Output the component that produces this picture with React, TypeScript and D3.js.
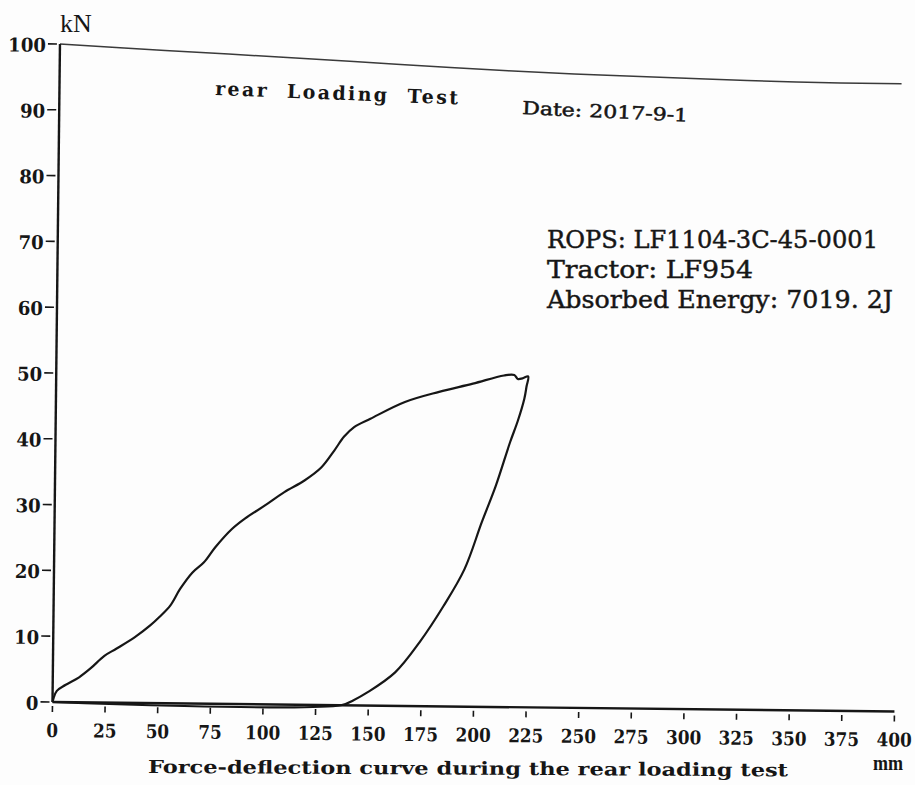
import React from 'react';
import * as d3 from 'd3';

// deflection (mm) / force (kN)
const xTicks: number[] = [0, 25, 50, 75, 100, 125, 150, 175, 200, 225, 250, 275, 300, 325, 350, 375, 400];
const yTicks: number[] = [0, 10, 20, 30, 40, 50, 60, 70, 80, 90, 100];

const loadingCurve: [number, number][] = [
  [0, 0], [0.5, 0.6], [2, 1.7], [6, 2.6], [12.5, 3.8], [18, 5.2], [24.4, 7.1], [30, 8.2],
  [38.8, 10.0], [46, 11.8], [50.3, 13.1], [55.5, 14.9], [60, 17.4], [65.7, 19.9],
  [71.2, 21.5], [76.5, 23.8], [84.3, 26.6], [90.4, 28.2], [99.7, 30.2], [109, 32.3],
  [118.5, 34.1], [126.4, 36.1], [132.5, 38.7], [137, 40.8], [141.8, 42.3], [149.5, 43.6],
  [165.8, 46.2], [182, 47.8], [198, 49.1], [212.7, 50.4], [217.6, 50.5], [219.3, 49.9],
  [221.5, 50.0], [224.2, 50.3],
];

const unloadingCurve: [number, number][] = [
  [224.2, 50.3], [223.5, 48.8], [222.5, 46.9], [219.5, 43.5], [216, 40.3], [209.4, 33.6],
  [203, 28.1], [195, 20.9], [185.3, 15.3], [174, 9.7], [162.6, 5.1], [149.5, 2.0],
  [143, 0.8], [137, 0],
];

const returnLine: [number, number][] = [[137, 0], [0, 0]];

const upperBoundary: [number, number][] = [
  [0, 100], [50, 99.2], [112, 98.3], [160, 97.5], [213, 96.7], [260, 96.2],
  [307, 95.8], [350, 95.5], [400, 95.4],
];

const infoLines: string[] = ['ROPS: LF1104-3C-45-0001', 'Tractor: LF954', 'Absorbed Energy: 7019. 2J'];
const infoWidths: number[] = [331, 206, 346];

const W = 915;
const H = 785;
const ox = 52.5;
const oy = 702;
const tilt = 0.65; // the scan is slightly rotated
const ink = '#161616';
const serif = '"DejaVu Serif", "Liberation Serif", serif';

export default function App() {
  const x = d3.scaleLinear().domain([0, 400]).range([ox, 894.5]);
  const y = d3.scaleLinear().domain([0, 100]).range([oy, 44]);

  const line = d3
    .line<[number, number]>()
    .x((d) => x(d[0]))
    .y((d) => y(d[1]))
    .curve(d3.curveCatmullRom.alpha(0.5));

  const curve = [...loadingCurve, ...unloadingCurve.slice(1), ...returnLine.slice(1)];

  return (
    <svg
      width={W}
      height={H}
      style={{ position: 'absolute', left: 0, top: 0, display: 'block' }}
    >
      <rect width={W} height={H} fill="#fdfdfd" />

      <g transform={`rotate(${tilt} ${ox} ${oy})`}>
        {/* upper frame */}
        <path d={line(upperBoundary) as string} fill="none" stroke="#3a3a3a" strokeWidth={1.5} />

        {/* axes */}
        <line x1={ox} x2={ox} y1={y(0)} y2={y(100)} stroke={ink} strokeWidth={2.4} />
        <line x1={ox} x2={x(400)} y1={y(0)} y2={y(0)} stroke={ink} strokeWidth={2.4} />

        {yTicks.map((t) => (
          <g key={`y${t}`}>
            <line x1={ox - 12} x2={ox - 3} y1={y(t)} y2={y(t)} stroke={ink} strokeWidth={1.6} />
            <text
              x={ox - 14}
              y={y(t) + 8}
              textAnchor="end"
              fontFamily={serif}
              fontWeight="bold"
              fontSize={19}
              textLength={String(t).length * 12.6}
              lengthAdjust="spacingAndGlyphs"
              fill={ink}
            >
              {t}
            </text>
          </g>
        ))}

        {xTicks.map((t) => (
          <g key={`x${t}`}>
            <line x1={x(t)} x2={x(t)} y1={oy + 4} y2={oy + 10} stroke={ink} strokeWidth={1.6} />
            <text
              x={x(t)}
              y={oy + 35}
              textAnchor="middle"
              fontFamily={serif}
              fontWeight="bold"
              fontSize={19}
              textLength={String(t).length * 11.7}
              lengthAdjust="spacingAndGlyphs"
              fill={ink}
            >
              {t}
            </text>
          </g>
        ))}

        {/* force-deflection loop */}
        <path d={line(curve) as string} fill="none" stroke={ink} strokeWidth={2.2} strokeLinejoin="round" />
      </g>

      <text x={60} y={32} fontFamily='"Liberation Serif", serif' fontSize={26} fill={ink}>
        kN
      </text>

      <text
        transform="translate(215,95) rotate(2.2)"
        fontFamily={serif}
        fontWeight="bold"
        fontSize={19}
        textLength={243}
        lengthAdjust="spacing"
        fill={ink}
        style={{ whiteSpace: 'pre' }}
      >
        {'rear  Loading  Test'}
      </text>

      <text
        transform="translate(522,114) rotate(2.6)"
        fontFamily={serif}
        fontSize={18}
        textLength={166}
        lengthAdjust="spacingAndGlyphs"
        fill={ink}
        stroke={ink}
        strokeWidth={0.5}
      >
        Date: 2017-9-1
      </text>

      {infoLines.map((s, i) => (
        <text
          key={s}
          x={547}
          y={248 + i * 30}
          fontFamily={serif}
          fontSize={24}
          textLength={infoWidths[i]}
          lengthAdjust="spacingAndGlyphs"
          fill={ink}
          stroke={ink}
          strokeWidth={0.45}
        >
          {s}
        </text>
      ))}

      <text
        transform="translate(148,773) rotate(0.3)"
        fontFamily={serif}
        fontWeight="bold"
        fontSize={18}
        textLength={640}
        lengthAdjust="spacingAndGlyphs"
        fill={ink}
      >
        Force-deflection curve during the rear loading test
      </text>

      <text
        x={873}
        y={770}
        fontFamily='"Liberation Serif", serif'
        fontWeight="bold"
        fontSize={20}
        textLength={30}
        lengthAdjust="spacingAndGlyphs"
        fill={ink}
      >
        mm
      </text>
    </svg>
  );
}
